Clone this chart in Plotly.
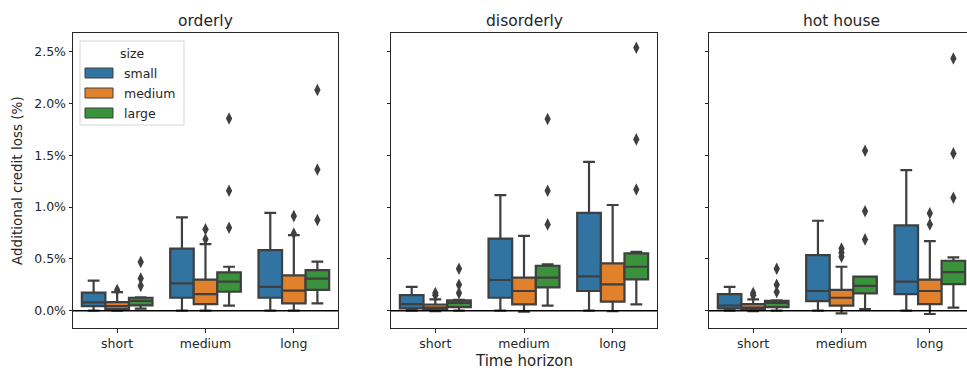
import plotly.graph_objects as go

# ---------------- data (values in %) ----------------
horizons = ["short", "medium", "long"]
sizes = ["small", "medium", "large"]
scenarios = ["orderly", "disorderly", "hot house"]

# each stat: [hue][horizon]
orderly_lo = [[0.0, 0.0, 0.0], [0.0, 0.0, 0.0], [0.02, 0.048, 0.07]]
orderly_q1 = [[0.045, 0.125, 0.125], [0.015, 0.064, 0.07], [0.052, 0.183, 0.2]]
orderly_med = [[0.08, 0.264, 0.23], [0.045, 0.16, 0.193], [0.095, 0.28, 0.31]]
orderly_q3 = [[0.174, 0.60, 0.585], [0.083, 0.30, 0.34], [0.125, 0.37, 0.392]]
orderly_hi = [[0.29, 0.90, 0.945], [0.18, 0.643, 0.73], [0.13, 0.424, 0.473]]
orderly_out = [[[], [], []],
               [[0.2], [0.785, 0.69], [0.913, 0.745]],
               [[0.47, 0.31, 0.24], [1.855, 1.158, 0.80], [2.13, 1.363, 0.875]]]

disorderly_lo = [[0.0, 0.0, 0.0], [-0.005, -0.01, -0.005], [0.0, 0.048, 0.061]]
disorderly_q1 = [[0.022, 0.125, 0.19], [0.008, 0.061, 0.087], [0.035, 0.225, 0.302]]
disorderly_med = [[0.064, 0.296, 0.331], [0.03, 0.19, 0.254], [0.075, 0.32, 0.424]]
disorderly_q3 = [[0.15, 0.695, 0.945], [0.06, 0.32, 0.457], [0.1, 0.434, 0.553]]
disorderly_hi = [[0.23, 1.116, 1.437], [0.11, 0.723, 1.02], [0.105, 0.447, 0.569]]
disorderly_out = [[[], [], []],
                  [[0.17, 0.15], [], []],
                  [[0.405, 0.25, 0.17], [1.85, 1.158, 0.833], [2.537, 1.653, 1.17]]]

hothouse_lo = [[0.0, 0.0, 0.0], [-0.005, -0.026, -0.032], [0.0, 0.016, 0.03]]
hothouse_q1 = [[0.022, 0.093, 0.16], [0.008, 0.048, 0.064], [0.035, 0.167, 0.257]]
hothouse_med = [[0.05, 0.19, 0.28], [0.03, 0.125, 0.19], [0.075, 0.24, 0.373]]
hothouse_q3 = [[0.16, 0.537, 0.823], [0.064, 0.2, 0.30], [0.096, 0.328, 0.482]]
hothouse_hi = [[0.23, 0.868, 1.357], [0.11, 0.424, 0.672], [0.1, 0.328, 0.514]]
hothouse_out = [[[], [], []],
                [[0.17, 0.15], [0.6, 0.56, 0.52], [0.94, 0.833]],
                [[0.405, 0.25, 0.18], [1.543, 0.96, 0.688], [2.434, 1.518, 1.09]]]

y_ticks = [0.0, 0.5, 1.0, 1.5, 2.0, 2.5]

# ---------------- styling ----------------
colors = ["#3274a1", "#e1812c", "#3a923a"]
edge = "#3f3f3f"
txt = "#262626"
font_family = "DejaVu Sans"
box_w = 0.8 / 3
offsets = [-box_w, 0.0, box_w]

panels = [
    (orderly_lo, orderly_q1, orderly_med, orderly_q3, orderly_hi, orderly_out),
    (disorderly_lo, disorderly_q1, disorderly_med, disorderly_q3, disorderly_hi, disorderly_out),
    (hothouse_lo, hothouse_q1, hothouse_med, hothouse_q3, hothouse_hi, hothouse_out),
]

fig = go.Figure()

for p, (lo, q1, med, q3, hi, out) in enumerate(panels):
    xa = "x" if p == 0 else f"x{p+1}"
    ya = "y" if p == 0 else f"y{p+1}"
    for h in range(3):
        xs = [i + offsets[h] for i in range(3)]
        fig.add_trace(go.Box(
            x=xs, q1=q1[h], median=med[h], q3=q3[h],
            lowerfence=lo[h], upperfence=hi[h],
            width=box_w, fillcolor=colors[h],
            line=dict(color=edge, width=2.2), whiskerwidth=0.5,
            boxpoints=False, name=sizes[h], legendgroup=sizes[h],
            showlegend=False, xaxis=xa, yaxis=ya, hoverinfo="skip",
        ))
        ox, oy = [], []
        for i in range(3):
            for v in out[h][i]:
                ox.append(i + offsets[h])
                oy.append(v)
        if ox:
            fig.add_trace(go.Scatter(
                x=ox, y=oy, mode="markers",
                marker=dict(symbol="diamond-tall", size=9, color=edge),
                showlegend=False, xaxis=xa, yaxis=ya, hoverinfo="skip",
            ))

W, H = 967, 374
ml, mr, mt, mb = 73, 0, 33, 46
pw = W - ml - mr
ph = H - mt - mb
domains = [[0.0, 265 / pw], [(391 - ml) / pw, (657 - ml) / pw], [(709 - ml) / pw, 1.0]]
unit = 265 / 3.0
x_ranges = [[-0.5, 2.5], [-0.5, 2.5], [-0.5, -0.5 + (W - 709) / unit]]
y_range = [-0.167, 2.68]


def px2x(px):
    return (px - ml) / pw


def py2y(py):
    return (H - mb - py) / ph


layout = dict(
    width=W, height=H,
    margin=dict(l=ml, r=mr, t=mt, b=mb, pad=0),
    paper_bgcolor="white", plot_bgcolor="white",
    boxmode="overlay",
    font=dict(family=font_family, size=12, color=txt),
    showlegend=False,
)

for p in range(3):
    xk = "xaxis" if p == 0 else f"xaxis{p+1}"
    yk = "yaxis" if p == 0 else f"yaxis{p+1}"
    ya = "y" if p == 0 else f"y{p+1}"
    xa = "x" if p == 0 else f"x{p+1}"
    layout[xk] = dict(
        domain=domains[p], range=x_ranges[p], anchor=ya, type="linear",
        tickvals=[0, 1, 2], ticktext=horizons, ticks="outside", ticklen=3.5,
        tickcolor=txt, showline=True, linecolor=txt, linewidth=1,
        mirror=True, showgrid=False, zeroline=False,
        tickfont=dict(size=12.5, family=font_family, color=txt),
    )
    layout[yk] = dict(
        domain=[0, 1], range=y_range, anchor=xa,
        tickvals=y_ticks,
        ticktext=[f"{v:.1f}%" for v in y_ticks] if p == 0 else [""] * len(y_ticks),
        ticks="outside", ticklen=3.5, tickcolor=txt,
        showline=True, linecolor=txt, linewidth=1, mirror=(p < 2),
        showgrid=False, zeroline=False,
        tickfont=dict(size=12.5, family=font_family, color=txt),
    )

fig.update_layout(**layout)

# zero lines
for p in range(3):
    xa = "x" if p == 0 else f"x{p+1}"
    ya = "y" if p == 0 else f"y{p+1}"
    fig.add_shape(type="line", xref=f"{xa} domain", yref=ya, x0=0, x1=1, y0=0, y1=0,
                  line=dict(color="black", width=1.5), layer="above")

# panel titles
for p in range(3):
    xa = "x" if p == 0 else f"x{p+1}"
    fig.add_annotation(text=scenarios[p], xref=f"{xa} domain", yref="paper",
                       x=0.5 if p < 2 else 0.5 * 265 / (W - 709), y=1, yanchor="bottom",
                       yshift=1, showarrow=False,
                       font=dict(size=15.5, family=font_family, color=txt))

# axis titles
fig.add_annotation(text="Additional credit loss (%)", xref="paper", yref="paper",
                   x=0, y=py2y(181), xshift=-56, xanchor="center", yanchor="middle",
                   textangle=-90, showarrow=False,
                   font=dict(size=13.5, family=font_family, color=txt))
fig.add_annotation(text="Time horizon", xref="x2 domain", yref="paper",
                   x=0.5, y=0, yshift=-33, yanchor="middle", showarrow=False,
                   font=dict(size=15, family=font_family, color=txt))

# legend (drawn in paper space)
fig.add_shape(type="rect", xref="paper", yref="paper",
              x0=px2x(80), x1=px2x(184), y0=py2y(125), y1=py2y(41),
              line=dict(color="#d6d6d6", width=1), fillcolor="rgba(255,255,255,0.85)",
              layer="above")
fig.add_annotation(text="size", xref="paper", yref="paper", x=px2x(132), y=py2y(53),
                   xanchor="center", yanchor="middle", showarrow=False,
                   font=dict(size=12.5, family=font_family, color=txt))
for h in range(3):
    cy = 73 + 20 * h
    fig.add_shape(type="rect", xref="paper", yref="paper",
                  x0=px2x(85), x1=px2x(113), y0=py2y(cy + 5), y1=py2y(cy - 5),
                  line=dict(color=edge, width=1), fillcolor=colors[h], layer="above")
    fig.add_annotation(text=sizes[h], xref="paper", yref="paper", x=px2x(122), y=py2y(cy),
                       xanchor="left", yanchor="middle", showarrow=False,
                       font=dict(size=12.5, family=font_family, color=txt))

fig.write_html("out.html")
